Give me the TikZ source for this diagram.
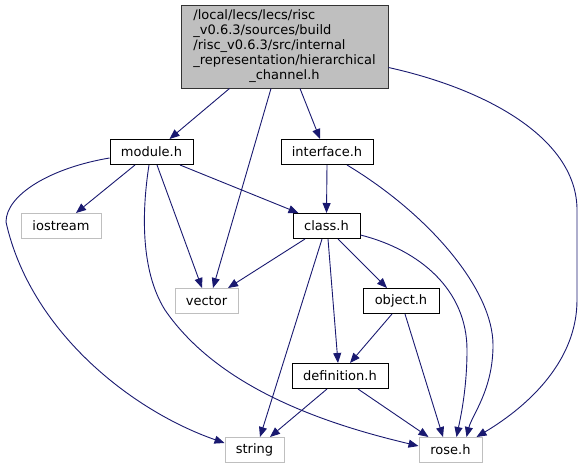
\documentclass[tikz,border=0pt]{standalone}
\usepackage{fontspec}
\setmainfont{DejaVu Sans}
\usetikzlibrary{arrows.meta,calc}
\definecolor{edgecol}{HTML}{191970}
\definecolor{extcol}{HTML}{BFBFBF}
\definecolor{rootfill}{HTML}{BFBFBF}
\begin{document}
\begin{tikzpicture}[x=1pt,y=-1pt,
  box/.style={draw=black,line width=1pt,minimum height=25pt,inner sep=0pt,font=\fontsize{13}{14.8}\selectfont},
  extbox/.style={box,draw=extcol},
  edge/.style={draw=edgecol,line width=0.9pt,-{Triangle[length=10pt,width=8pt]}},
]
\useasboundingbox (0,0) rectangle (583,469);

\node[box,fill=rootfill,draw=black!80,minimum width=207pt,minimum height=83pt] (root) at (284.5,46.5)
  {\begin{tabular}{@{}l@{}}/local/lecs/lecs/risc\\\_v0.6.3/sources/build\\/risc\_v0.6.3/src/internal\\\_representation/hierarchical\\\multicolumn{1}{@{}c@{}}{\_channel.h}\end{tabular}};
\node[box,minimum width=83pt] (module) at (151.5,152) {module.h};
\node[extbox,minimum width=80pt] (iostream) at (61,226) {iostream};
\node[box,minimum width=92pt] (interface) at (327,152) {interface.h};
\node[box,minimum width=67pt] (class) at (326.5,226) {class.h};
\node[extbox,minimum width=63pt] (vector) at (206.5,301) {vector};
\node[box,minimum width=76pt] (object) at (401,301) {object.h};
\node[box,minimum width=96pt] (definition) at (340,376) {definition.h};
\node[extbox,minimum width=59pt] (string) at (254.5,450) {string};
\node[extbox,minimum width=63pt] (rose) at (450.5,450) {rose.h};

% root
\draw[edge] ($(root.south)+(-55,0)$) -- ($(module.north)+(18,0)$);
\draw[edge] ($(root.south)+(-13.5,0)$) -- ($(vector.north)+(6.5,0)$);
\draw[edge] ($(root.south)+(15.5,0)$) -- ($(interface.north)+(-7,0)$);
\draw[edge] ($(root.east)+(0,21)$) .. controls (490,90) and (577,140) .. (577,210) -- (577,300) .. controls (577,360) and (530,405) .. ($(rose.north)+(26,0)$);
% module
\draw[edge] ($(module.south)+(-16.5,0)$) -- ($(iostream.north)+(15,0)$);
\draw[edge] ($(module.west)+(0,6)$) .. controls (50,168) and (6,195) .. (6,222) .. controls (30,330) and (130,410) .. ($(string.west)+(0,-7)$);
\draw[edge] ($(module.south)+(5.5,0)$) -- ($(vector.north)+(-4.5,0)$);
\draw[edge] ($(module.south)+(-2.5,0)$) .. controls (142,210) and (140,270) .. (165,310) .. controls (220,390) and (330,425) .. ($(rose.west)+(0,-4)$);
\draw[edge] ($(module.south)+(28.5,0)$) -- ($(class.north)+(-28,0)$);
% interface
\draw[edge] (interface.south) -- (class.north);
\draw[edge] ($(interface.south)+(20,0)$) .. controls (430,215) and (493,290) .. (493,345) .. controls (493,390) and (472,415) .. ($(rose.north)+(16,0)$);
% class
\draw[edge] ($(class.south)+(-21.5,0)$) -- ($(vector.north)+(21.5,0)$);
\draw[edge] ($(class.south)+(-4.5,0)$) -- ($(string.north)+(5.5,0)$);
\draw[edge] ($(class.south)+(1.5,0)$) -- ($(definition.north)+(-2,0)$);
\draw[edge] ($(class.south)+(11.5,0)$) -- ($(object.north)+(-14,0)$);
\draw[edge] ($(class.east)+(0,9)$) .. controls (420,250) and (467,290) .. (467,350) .. controls (467,390) and (460,420) .. ($(rose.north)+(6,0)$);
% object
\draw[edge] ($(object.south)+(-9,0)$) -- ($(definition.north)+(10,0)$);
\draw[edge] ($(object.south)+(4,0)$) -- ($(rose.north)+(-7.5,0)$);
% definition
\draw[edge] ($(definition.south)+(-13,0)$) -- ($(string.north)+(15.5,0)$);
\draw[edge] ($(definition.south)+(18,0)$) -- ($(rose.north)+(-22,0)$);
\end{tikzpicture}
\end{document}
